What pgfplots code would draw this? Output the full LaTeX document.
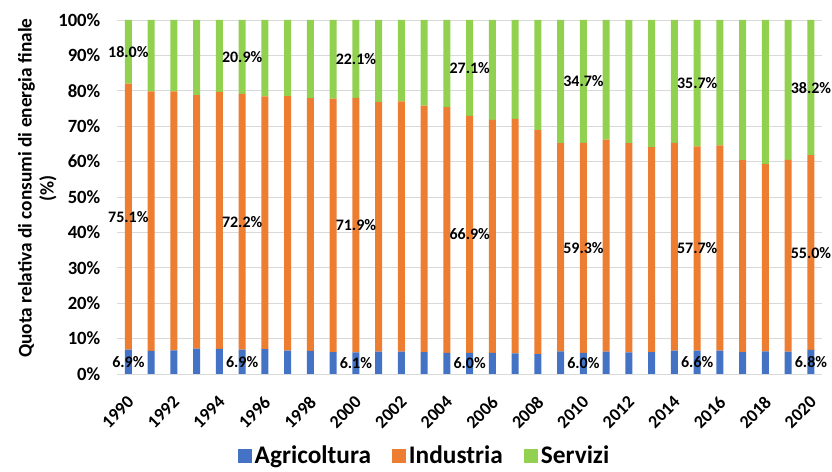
\documentclass[border=0pt]{standalone}
\usepackage{pgfplots}
\pgfplotsset{compat=1.18}
\usepackage{fontspec}
\setmainfont{Carlito}
\definecolor{agri}{HTML}{4472C4}
\definecolor{indu}{HTML}{ED7D31}
\definecolor{serv}{HTML}{92D050}

\begin{document}
\begin{tikzpicture}[lbl/.style={font=\fontsize{12}{14}\selectfont\bfseries, inner sep=0pt}]
\begin{axis}[
  ybar stacked, bar width=0.31,
  width=529pt, height=265.5pt, scale only axis,
  xmin=1989.5, xmax=2020.5, ymin=0, ymax=100,
  xtick={1990,1992,...,2020}, ytick={0,10,...,100},
  xticklabels={1990,1992,1994,1996,1998,2000,2002,2004,2006,2008,2010,2012,2014,2016,2018,2020},
  yticklabels={0\%,10\%,20\%,30\%,40\%,50\%,60\%,70\%,80\%,90\%,100\%},
  ymajorgrids, grid style={draw=gray!30, line width=0.6pt},
  axis line style={draw=none},
  major tick length=0pt,
  y tick label style={font=\fontsize{14}{16}\selectfont\bfseries, xshift=-9pt},
  x tick label style={font=\fontsize{13.5}{15}\selectfont\bfseries,
    rotate=45, anchor=north east, inner sep=0pt, xshift=-12pt, yshift=-10pt},
  ylabel={Quota relativa di consumi di energia finale\\(\%)},
  ylabel style={at={(axis description cs:-0.113,0.525)}, anchor=center, align=center,
    font=\fontsize{14.5}{16.5}\selectfont\bfseries},
  legend style={at={(0.4367,-0.2316)}, anchor=center, draw=none,
    legend columns=3, font=\fontsize{19}{21}\selectfont\bfseries,
    /tikz/every even column/.append style={column sep=14pt}},
  legend image code/.code={\fill[#1] (0pt,-5pt) rectangle (10.5pt,5.5pt);},
]
% Agricoltura
\addplot[fill=agri, draw=none] coordinates {
(1990,6.9) (1991,6.5) (1992,6.7) (1993,7.2) (1994,7.1) (1995,6.9) (1996,7.0)
(1997,6.6) (1998,6.5) (1999,6.2) (2000,6.1) (2001,6.3) (2002,6.3) (2003,6.2)
(2004,6.0) (2005,6.0) (2006,6.0) (2007,5.8) (2008,5.6) (2009,6.4) (2010,6.0)
(2011,6.3) (2012,6.1) (2013,6.2) (2014,6.6) (2015,6.6) (2016,6.6) (2017,6.2)
(2018,6.4) (2019,6.3) (2020,6.8)};
% Industria
\addplot[fill=indu, draw=none] coordinates {
(1990,75.1) (1991,73.3) (1992,73.1) (1993,71.6) (1994,72.6) (1995,72.2) (1996,71.4)
(1997,71.9) (1998,71.4) (1999,71.6) (2000,71.9) (2001,70.5) (2002,70.7) (2003,69.6)
(2004,69.4) (2005,66.9) (2006,65.8) (2007,66.3) (2008,63.3) (2009,58.8) (2010,59.3)
(2011,59.9) (2012,59.1) (2013,57.9) (2014,58.7) (2015,57.7) (2016,58.0) (2017,54.2)
(2018,52.9) (2019,54.2) (2020,55.0)};
% Servizi
\addplot[fill=serv, draw=none] coordinates {
(1990,18.0) (1991,20.2) (1992,20.2) (1993,21.2) (1994,20.3) (1995,20.9) (1996,21.6)
(1997,21.5) (1998,22.1) (1999,22.2) (2000,22.0) (2001,23.2) (2002,23.0) (2003,24.2)
(2004,24.6) (2005,27.1) (2006,28.2) (2007,27.9) (2008,31.1) (2009,34.8) (2010,34.7)
(2011,33.8) (2012,34.8) (2013,35.9) (2014,34.7) (2015,35.7) (2016,35.4) (2017,39.6)
(2018,40.7) (2019,39.5) (2020,38.2)};
\legend{Agricoltura, Industria, Servizi}

% label spots: middle of each segment
\coordinate (a90) at (axis cs:1990,3.45);  \coordinate (i90) at (axis cs:1990,44.45); \coordinate (s90) at (axis cs:1990,91.0);
\coordinate (a95) at (axis cs:1995,3.45);  \coordinate (i95) at (axis cs:1995,43.0);  \coordinate (s95) at (axis cs:1995,89.55);
\coordinate (a00) at (axis cs:2000,3.05);  \coordinate (i00) at (axis cs:2000,42.05); \coordinate (s00) at (axis cs:2000,88.95);
\coordinate (a05) at (axis cs:2005,3.0);   \coordinate (i05) at (axis cs:2005,39.45); \coordinate (s05) at (axis cs:2005,86.45);
\coordinate (a10) at (axis cs:2010,3.0);   \coordinate (i10) at (axis cs:2010,35.65); \coordinate (s10) at (axis cs:2010,82.65);
\coordinate (a15) at (axis cs:2015,3.3);   \coordinate (i15) at (axis cs:2015,35.45); \coordinate (s15) at (axis cs:2015,82.15);
\coordinate (a20) at (axis cs:2020,3.4);   \coordinate (i20) at (axis cs:2020,34.3);  \coordinate (s20) at (axis cs:2020,80.9);
\end{axis}

\node[lbl] at (a90) {6.9\%};  \node[lbl] at (i90) {75.1\%}; \node[lbl] at (s90) {18.0\%};
\node[lbl] at (a95) {6.9\%};  \node[lbl] at (i95) {72.2\%}; \node[lbl] at (s95) {20.9\%};
\node[lbl] at (a00) {6.1\%};  \node[lbl] at (i00) {71.9\%}; \node[lbl] at (s00) {22.1\%};
\node[lbl] at (a05) {6.0\%};  \node[lbl] at (i05) {66.9\%}; \node[lbl] at (s05) {27.1\%};
\node[lbl] at (a10) {6.0\%};  \node[lbl] at (i10) {59.3\%}; \node[lbl] at (s10) {34.7\%};
\node[lbl] at (a15) {6.6\%};  \node[lbl] at (i15) {57.7\%}; \node[lbl] at (s15) {35.7\%};
\node[lbl] at (a20) {6.8\%};  \node[lbl] at (i20) {55.0\%}; \node[lbl] at (s20) {38.2\%};

% page frame: plot area plus the margins of the reference
\path (-87.75pt,-69pt) rectangle (536.25pt,280.5pt);
\end{tikzpicture}
\end{document}
